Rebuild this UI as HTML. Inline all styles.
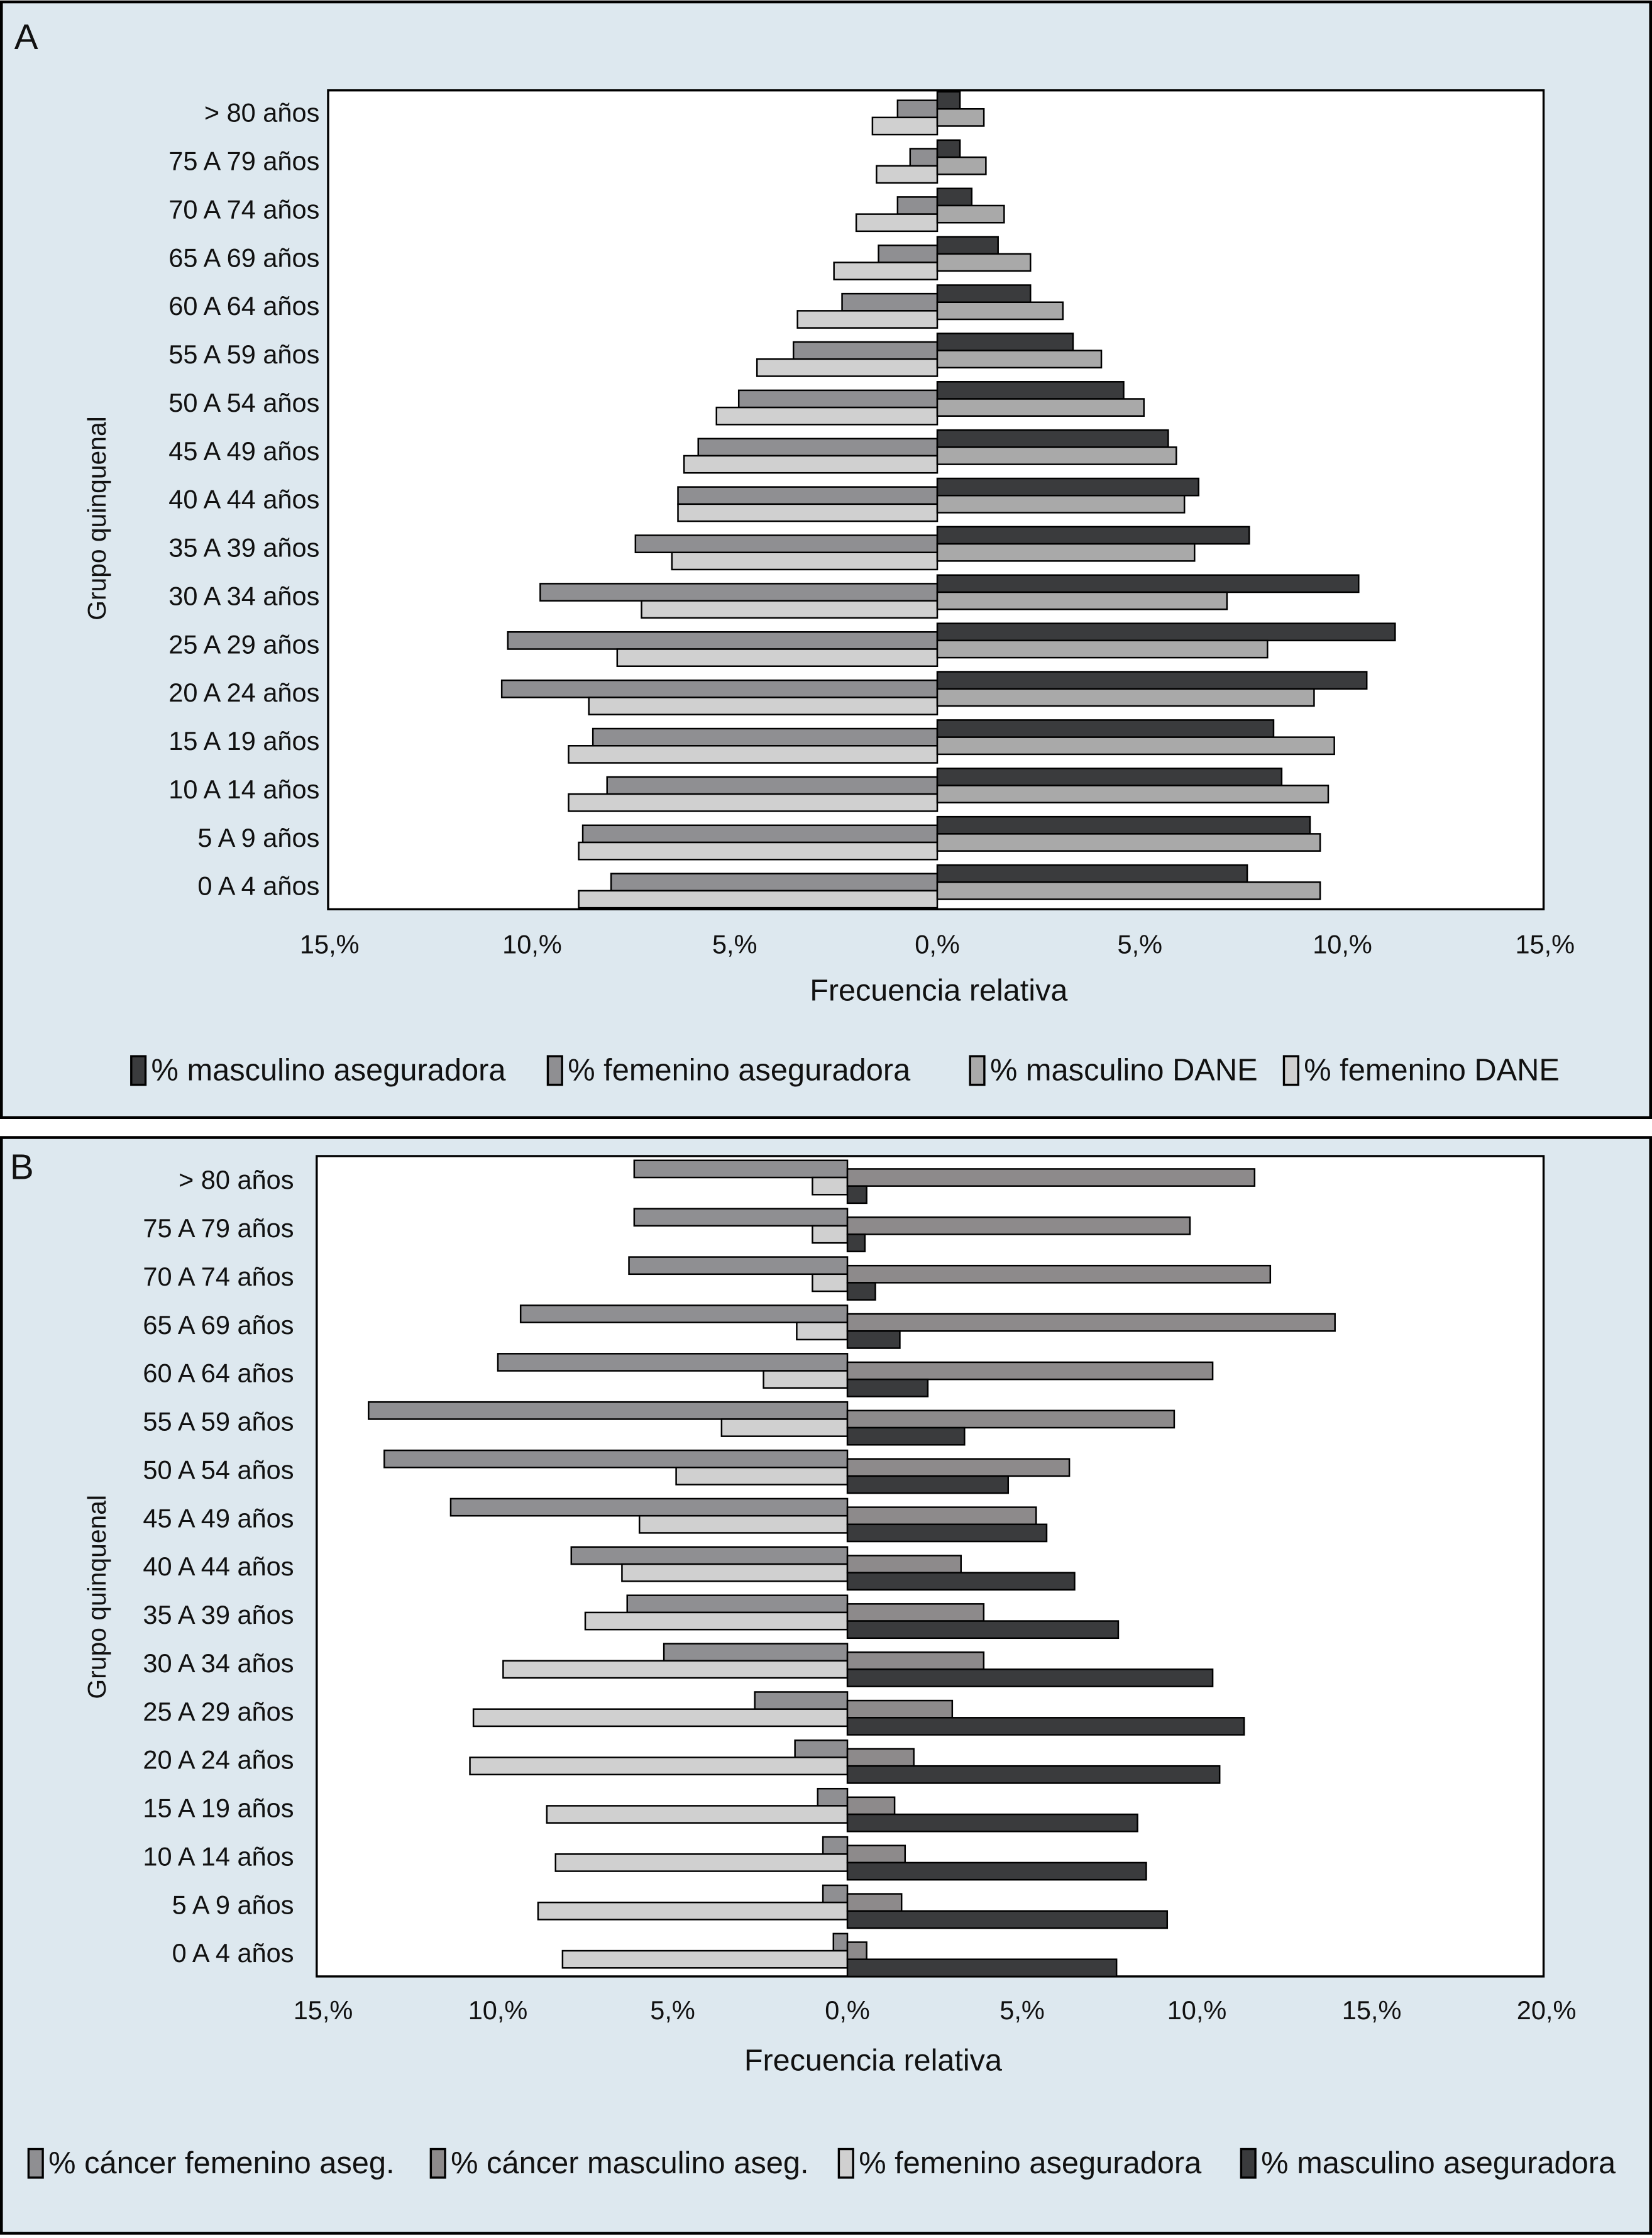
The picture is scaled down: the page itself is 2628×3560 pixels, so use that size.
<!DOCTYPE html>
<html><head><meta charset="utf-8"><style>
html,body{margin:0;padding:0;background:#fff}
svg{display:block}
text{font-family:"Liberation Sans",sans-serif;fill:#111}
</style></head><body>
<svg id="fig" width="2628" height="3560" viewBox="0 0 1158 1568" xmlns="http://www.w3.org/2000/svg">
<rect x="1" y="1" width="1156" height="782" fill="#dde8ef" stroke="#000" stroke-width="2"/>
<rect x="1" y="797" width="1156" height="768" fill="#dde8ef" stroke="#000" stroke-width="2"/>
<text x="10" y="34" font-size="25">A</text>
<text x="7" y="826" font-size="25">B</text>
<rect x="230" y="63" width="852" height="574" fill="#fff" stroke="#000" stroke-width="1.5"/>
<rect x="222" y="810" width="860" height="575" fill="#fff" stroke="#000" stroke-width="1.5"/>
<g id="ga"></g><g id="gb"></g>
</svg>
<script>
const categories = ["> 80 años","75 A 79 años","70 A 74 años","65 A 69 años","60 A 64 años","55 A 59 años","50 A 54 años","45 A 49 años","40 A 44 años","35 A 39 años","30 A 34 años","25 A 29 años","20 A 24 años","15 A 19 años","10 A 14 años","5 A 9 años","0 A 4 años"];
// Panel A
const aMascAseg = [0.56,0.56,0.85,1.5,2.3,3.35,4.6,5.7,6.45,7.7,10.4,11.3,10.6,8.3,8.5,9.2,7.65];
const aMascDane = [1.15,1.2,1.65,2.3,3.1,4.05,5.1,5.9,6.1,6.35,7.15,8.15,9.3,9.8,9.65,9.45,9.45];
const aFemAseg = [0.98,0.67,0.98,1.45,2.35,3.55,4.9,5.9,6.4,7.45,9.8,10.6,10.75,8.5,8.15,8.75,8.05];
const aFemDane = [1.6,1.5,2.0,2.55,3.45,4.45,5.45,6.25,6.4,6.55,7.3,7.9,8.6,9.1,9.1,8.85,8.85];
const aTicks = [-15,-10,-5,0,5,10,15];
// Panel B
const bFemCancer = [6.1,6.1,6.25,9.35,10.0,13.7,13.25,11.35,7.9,6.3,5.25,2.65,1.5,0.85,0.7,0.7,0.4];
const bFemAseg = [1.0,1.0,1.0,1.45,2.4,3.6,4.9,5.95,6.45,7.5,9.85,10.7,10.8,8.6,8.35,8.85,8.15];
const bMascCancer = [11.65,9.8,12.1,13.95,10.45,9.35,6.35,5.4,3.25,3.9,3.9,3.0,1.9,1.35,1.65,1.55,0.55];
const bMascAseg = [0.55,0.5,0.8,1.5,2.3,3.35,4.6,5.7,6.5,7.75,10.45,11.35,10.65,8.3,8.55,9.15,7.7];
const bTicks = [-15,-10,-5,0,5,10,15,20];

const NS="http://www.w3.org/2000/svg";
function mk(tag, attrs, parent, txt){const e=document.createElementNS(NS,tag);for(const k in attrs)e.setAttribute(k,attrs[k]);if(txt!==undefined)e.textContent=txt;parent.appendChild(e);return e;}
const C={dark:"#3a3b3d",mid:"#8f8f92",mid2:"#8d8a8b",lmid:"#a9a9a9",light:"#d0d0d0"};

function panel(g, cfg){
  const xs=v=>cfg.zero+v*cfg.scale;
  const ys=i=>cfg.y0+i*33.875;
  categories.forEach((c,i)=>{
    const t=mk("text",{x:cfg.labelX,y:ys(i)+6,"font-size":18.3,"text-anchor":"end"},g,c);
    
    
  });
  cfg.series.forEach(s=>{
    s.vals.forEach((v,i)=>{
      const x1=xs(0), x2=xs(s.sign*v);
      const r=mk("rect",{x:Math.min(x1,x2),y:ys(i)+s.dy,width:Math.abs(x2-x1),height:12,fill:s.color,stroke:"#000","stroke-width":1.1},g);
      
      
    });
  });
  cfg.ticks.forEach(t=>{
    const e=mk("text",{x:xs(t),y:cfg.tickY,"font-size":18.3,"text-anchor":"middle"},g,Math.abs(t)+",%");
    
    
  });
  const at=mk("text",{x:cfg.titleX,y:cfg.titleY,"font-size":21.4,"text-anchor":"middle"},g,"Frecuencia relativa");
  
  
  const yt=mk("text",{x:0,y:0,"font-size":18,"text-anchor":"middle",transform:`translate(${cfg.yTitleX},${cfg.yTitleY}) rotate(-90)`},g,"Grupo quinquenal");
  
  
  cfg.legend.forEach(l=>{
    const sw=mk("rect",{x:l.x,y:cfg.legY-9,width:10,height:20,fill:l.color,stroke:"#000","stroke-width":1.5},g);
    
    
    const lt=mk("text",{x:l.x+14,y:cfg.legY+8,"font-size":21.5},g,l.text);
    
    
  });
}
panel(document.getElementById("ga"),{zero:657,scale:28.4,y0:79,labelX:224,tickY:668,titleX:658,titleY:701,yTitleX:74,yTitleY:363,legY:749,ticks:aTicks,
  series:[
    {name:"femenino-aseguradora",vals:aFemAseg,sign:-1,dy:-9,color:C.mid},
    {name:"femenino-dane",vals:aFemDane,sign:-1,dy:3,color:C.light},
    {name:"masculino-aseguradora",vals:aMascAseg,sign:1,dy:-15,color:C.dark},
    {name:"masculino-dane",vals:aMascDane,sign:1,dy:-3,color:C.lmid}],
  legend:[{x:92,color:C.dark,text:"% masculino aseguradora"},{x:384,color:C.mid,text:"% femenino aseguradora"},{x:680,color:C.lmid,text:"% masculino DANE"},{x:900,color:C.light,text:"% femenino DANE"}]});
panel(document.getElementById("gb"),{zero:594,scale:24.5,y0:827,labelX:206,tickY:1415,titleX:612,titleY:1451,yTitleX:74,yTitleY:1119,legY:1515,ticks:bTicks,
  series:[
    {name:"cancer-femenino",vals:bFemCancer,sign:-1,dy:-14,color:C.mid},
    {name:"femenino-aseguradora",vals:bFemAseg,sign:-1,dy:-2,color:C.light},
    {name:"cancer-masculino",vals:bMascCancer,sign:1,dy:-8,color:C.mid2},
    {name:"masculino-aseguradora",vals:bMascAseg,sign:1,dy:4,color:C.dark}],
  legend:[{x:20,color:C.mid,text:"% cáncer femenino aseg."},{x:302,color:C.mid2,text:"% cáncer masculino aseg."},{x:588,color:C.light,text:"% femenino aseguradora"},{x:870,color:C.dark,text:"% masculino aseguradora"}]});
</script>
</body></html>
